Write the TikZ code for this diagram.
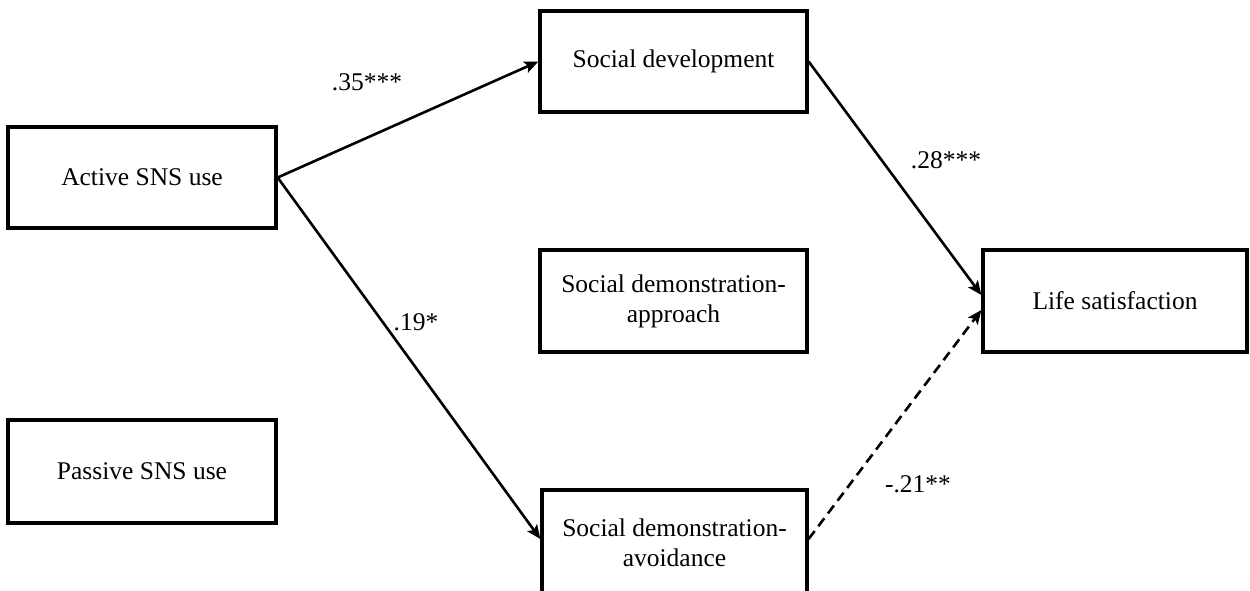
\documentclass[tikz,border=0pt]{standalone}
\usepackage{fontspec}
\setmainfont{Liberation Serif}
\usetikzlibrary{arrows.meta}
\begin{document}
\begin{tikzpicture}[x=1pt,y=-1pt,
  box/.style={draw,line width=3.3pt,rectangle,align=center,inner sep=0pt,font=\fontsize{25.5}{30}\selectfont},
  arr/.style={line width=2.6pt,-{Stealth[length=14pt,width=12pt,inset=3pt]}},
  lbl/.style={font=\fontsize{25.5}{30}\selectfont,inner sep=0pt}]
\useasboundingbox (0,0) rectangle (1250,590);
\node[box,minimum width=268pt,minimum height=101pt] (act) at (142,177.5) {Active SNS use};
\node[box,minimum width=268pt,minimum height=103pt] (pas) at (142,471.5) {Passive SNS use};
\node[box,minimum width=267pt,minimum height=101pt] (dev) at (673.5,61.5) {Social development};
\node[box,minimum width=267pt,minimum height=102pt] (app) at (673.5,301) {Social demonstration-\\approach};
\node[box,minimum width=265pt,minimum height=106pt] (avo) at (674.5,543) {Social demonstration-\\avoidance};
\node[box,minimum width=264pt,minimum height=102pt] (life) at (1115,301) {Life satisfaction};
\draw[arr] (act.east) -- (dev.west);
\draw[arr] (act.east) -- ([yshift=4pt]avo.west);
\draw[arr] (dev.east) -- ([yshift=6pt]life.west);
\draw[arr,dash pattern=on 10pt off 6pt] ([yshift=4pt]avo.east) -- ([yshift=-9pt]life.west);
\node[lbl] (l1) at (367,82) {.35***};
\node[lbl] (l2) at (946,160) {.28***};
\node[lbl] (l3) at (416,322) {.19*};
\node[lbl] (l4) at (918,484) {-.21**};
\end{tikzpicture}
\end{document}
